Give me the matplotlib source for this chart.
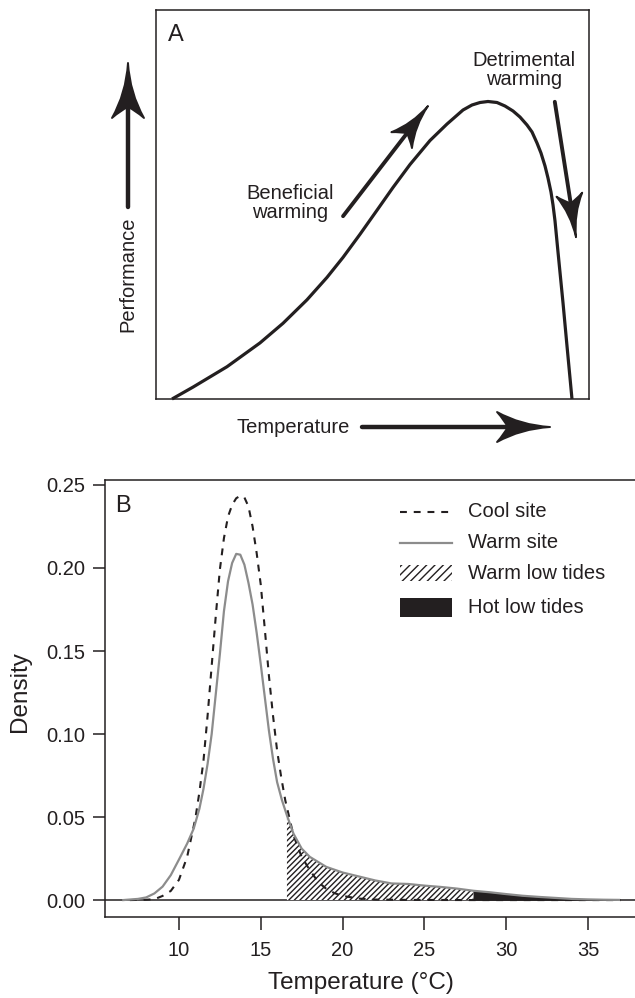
import numpy as np
import matplotlib
matplotlib.use('Agg')
import matplotlib.pyplot as plt
from matplotlib.path import Path
from matplotlib.patches import PathPatch, Rectangle
from matplotlib.lines import Line2D
from matplotlib.transforms import IdentityTransform

plt.rcParams['font.family'] = ['Liberation Sans', 'DejaVu Sans']
plt.rcParams['hatch.linewidth'] = 1.0

INK = '#231f20'
GREY = '#8c8c8c'

# panel A: schematic performance curve (axes units 0-100)
perf_temp = [3.70, 8.55, 16.40, 24.02, 29.33, 34.87, 39.49, 43.19, 47.11, 51.04, 54.73,
             58.66, 63.28, 67.21, 70.90, 72.98, 74.83, 76.67, 78.75, 80.60, 82.45, 84.06,
             85.68, 86.84, 87.99, 88.91, 89.84, 90.53, 91.22, 91.69, 92.15, 92.84, 94.00,
             94.92, 96.07]
perf_val = [0.0, 3.06, 8.30, 14.42, 19.46, 25.50, 31.26, 36.40, 42.34, 48.53, 54.37,
            60.28, 66.45, 70.69, 74.29, 75.58, 76.22, 76.48, 76.22, 75.32, 74.04, 72.49,
            70.44, 68.64, 65.81, 63.24, 59.90, 56.81, 53.21, 49.87, 45.76, 37.79, 24.68,
            13.62, 0.0]

# panel B: temperature densities
warm_x = [6.6, 7.5, 8.0, 8.5, 9.0, 9.5, 10.0, 10.5, 10.9, 11.25, 11.5, 11.75, 12.0,
          12.25, 12.5, 12.75, 13.0, 13.25, 13.5, 13.75, 14.0, 14.25, 14.5, 14.75,
          15.0, 15.25, 15.5, 15.75, 16.0, 16.3, 16.6, 17.0, 17.5, 18.0, 19.0, 20.0,
          21.0, 22.0, 23.0, 24.0, 25.0, 26.0, 27.0, 28.0, 29.0, 30.0, 31.0, 32.0,
          33.0, 34.0, 35.0, 36.0, 36.9]
warm_y = [0.0, 0.0007, 0.0016, 0.0040, 0.0081, 0.0150, 0.0244, 0.0340, 0.0430, 0.055,
          0.067, 0.082, 0.100, 0.124, 0.148, 0.174, 0.192, 0.203, 0.2085, 0.208,
          0.202, 0.191, 0.178, 0.161, 0.142, 0.122, 0.102, 0.085, 0.071, 0.060, 0.051,
          0.040, 0.031, 0.026, 0.0200, 0.0166, 0.0142, 0.0118, 0.0100, 0.0097, 0.0087,
          0.0079, 0.0069, 0.0056, 0.0047, 0.0036, 0.0026, 0.0019, 0.0013, 0.0007,
          0.0004, 0.0002, 0.0001]
cool_x = [7.0, 8.0, 8.5, 9.0, 9.5, 10.0, 10.5, 11.0, 11.25, 11.5, 11.75, 12.0, 12.25,
          12.5, 12.75, 13.0, 13.25, 13.5, 13.75, 14.0, 14.25, 14.5, 14.75, 15.0,
          15.25, 15.5, 15.75, 16.0, 16.25, 16.5, 17.0, 17.5, 18.0, 18.5, 19.0, 19.5,
          20.0, 21.0, 22.0, 24.0, 28.0, 32.0, 37.0]
cool_y = [0.0, 0.0002, 0.0005, 0.0025, 0.0055, 0.0122, 0.026, 0.049, 0.065, 0.084,
          0.111, 0.141, 0.171, 0.199, 0.218, 0.231, 0.238, 0.242, 0.2435, 0.2425,
          0.237, 0.225, 0.209, 0.190, 0.163, 0.135, 0.111, 0.090, 0.074, 0.060, 0.039,
          0.026, 0.018, 0.011, 0.0068, 0.0042, 0.0025, 0.0009, 0.0003, 0.0001, 0.0,
          0.0, 0.0]
warm_low = (16.6, 28.0)
hot_low = (28.0, 36.9)
legend_labels = ['Cool site', 'Warm site', 'Warm low tides', 'Hot low tides']

fig = plt.figure(figsize=(6.35, 9.98), dpi=100)
W_PX, H_PX = 635, 998


def px_box(left, top, right, bottom):
    return [left / W_PX, 1 - bottom / H_PX, (right - left) / W_PX, (bottom - top) / H_PX]


def arrow(p0, p1, L, Wd, lw=3.0):
    p0 = np.asarray(p0, float)
    p1 = np.asarray(p1, float)
    d = p1 - p0
    u = d / np.hypot(*d)
    v = np.array([-u[1], u[0]])

    def P(a, b):
        return tuple(p1 + a * u + b * v)

    rear = p1 - 0.8 * L * u
    fig.add_artist(Line2D([p0[0], rear[0]], [p0[1], rear[1]], color=INK, lw=lw,
                          solid_capstyle='round', transform=IdentityTransform()))
    verts = [P(0, 0), P(-0.55 * L, 0.12 * Wd), P(-L, Wd), P(-0.86 * L, 0.45 * Wd),
             P(-0.8 * L, 0), P(-0.86 * L, -0.45 * Wd), P(-L, -Wd),
             P(-0.55 * L, -0.12 * Wd), P(0, 0), P(0, 0)]
    codes = [Path.MOVETO] + [Path.CURVE3] * 8 + [Path.CLOSEPOLY]
    fig.add_artist(PathPatch(Path(verts, codes), facecolor=INK, edgecolor=INK, lw=1.4,
                             joinstyle='round', transform=IdentityTransform()))


# ---------- panel A ----------
axA = fig.add_axes(px_box(156, 10, 589, 399))
axA.plot(perf_temp, perf_val, color=INK, lw=2.3, solid_capstyle='butt',
         solid_joinstyle='round', clip_on=False)
axA.set_xlim(0, 100)
axA.set_ylim(0, 100)
axA.set_xticks([])
axA.set_yticks([])
for s in axA.spines.values():
    s.set_linewidth(1.1)
    s.set_color(INK)

axA.text(0.028, 0.936, 'A', transform=axA.transAxes, fontsize=17, color=INK,
         ha='left', va='center')
axA.text(0.309, 0.504, 'Beneficial\nwarming', transform=axA.transAxes, fontsize=14.5,
         color=INK, ha='center', va='center', linespacing=1.05)
axA.text(0.85, 0.846, 'Detrimental\nwarming', transform=axA.transAxes, fontsize=14.5,
         color=INK, ha='center', va='center', linespacing=1.05)
axA.text(-0.0647, 0.321, 'Performance', transform=axA.transAxes, fontsize=14.5,
         color=INK, ha='center', va='center', rotation=90)
axA.text(0.316, -0.072, 'Temperature', transform=axA.transAxes, fontsize=14.5,
         color=INK, ha='center', va='center')

tA = axA.transData
tAx = axA.transAxes
arrow(tA.transform((43.2, 47.0)), tA.transform((62.8, 75.3)), 43, 13, lw=2.8)
arrow(tA.transform((92.1, 76.4)), tA.transform((97.0, 41.6)), 43, 13, lw=2.8)
arrow(tAx.transform((-0.0647, 0.4936)), tAx.transform((-0.0647, 0.8638)), 55, 16, lw=3.2)
arrow(tAx.transform((0.4758, -0.072)), tAx.transform((0.91, -0.072)), 53, 15, lw=3.2)

# ---------- panel B ----------
axB = fig.add_axes(px_box(105, 480, 640, 917))
axB.axhline(0, color=INK, lw=1.1, zorder=1)

wx = np.array(warm_x)
wy = np.array(warm_y)
m1 = (wx >= warm_low[0]) & (wx <= warm_low[1])
axB.fill_between(wx[m1], 0, wy[m1], facecolor='white', edgecolor=INK, hatch='//////',
                 lw=0, zorder=2)
m2 = (wx >= hot_low[0]) & (wx <= hot_low[1])
axB.fill_between(wx[m2], 0, wy[m2], facecolor=INK, edgecolor=INK, lw=0.5, zorder=2)

axB.plot(cool_x, cool_y, color=INK, lw=1.5, ls=(0, (3.3, 3.3)), zorder=3,
         solid_joinstyle='round')
axB.plot(warm_x, warm_y, color=GREY, lw=1.6, zorder=4, solid_joinstyle='round')

axB.set_xlim(5.48, 38.18)
axB.set_ylim(-0.0102, 0.2530)
axB.set_xticks([10, 15, 20, 25, 30, 35])
axB.set_yticks([0.0, 0.05, 0.10, 0.15, 0.20, 0.25])
axB.set_yticklabels(['0.00', '0.05', '0.10', '0.15', '0.20', '0.25'])
axB.tick_params(axis='both', length=9, width=1.1, color=INK, labelcolor=INK,
                labelsize=14.5)
axB.tick_params(axis='y', pad=5)
axB.tick_params(axis='x', pad=8)
for s in axB.spines.values():
    s.set_linewidth(1.1)
    s.set_color(INK)

axB.text(0.019, 0.94, 'B', transform=axB.transAxes, fontsize=17, color=INK,
         ha='left', va='center')
axB.text(-0.159, 0.515, 'Density', transform=axB.transAxes, fontsize=17.5, color=INK,
         ha='center', va='center', rotation=90)
axB.text(0.479, -0.151, 'Temperature (°C)', transform=axB.transAxes, fontsize=17.5,
         color=INK, ha='center', va='center')

# legend drawn by hand
lx0, lx1, ltx = 0.551, 0.649, 0.679
rows = [0.927, 0.856, 0.787, 0.709]
axB.plot([lx0, lx1], [rows[0]] * 2, transform=axB.transAxes, color=INK, lw=1.5,
         ls=(0, (3.3, 3.3)), clip_on=False)
axB.plot([lx0, lx1], [rows[1]] * 2, transform=axB.transAxes, color=GREY, lw=1.6,
         clip_on=False)
axB.add_patch(Rectangle((lx0, rows[2] - 0.018), lx1 - lx0, 0.036, transform=axB.transAxes,
                        facecolor='white', edgecolor=INK, hatch='////', lw=0))
axB.add_patch(Rectangle((lx0, rows[3] - 0.022), lx1 - lx0, 0.044, transform=axB.transAxes,
                        facecolor=INK, edgecolor=INK, lw=0))
for r, lab in zip(rows, legend_labels):
    axB.text(ltx, r, lab, transform=axB.transAxes, fontsize=14.5, color=INK,
             ha='left', va='center')

fig.savefig('out.png', dpi=100)
